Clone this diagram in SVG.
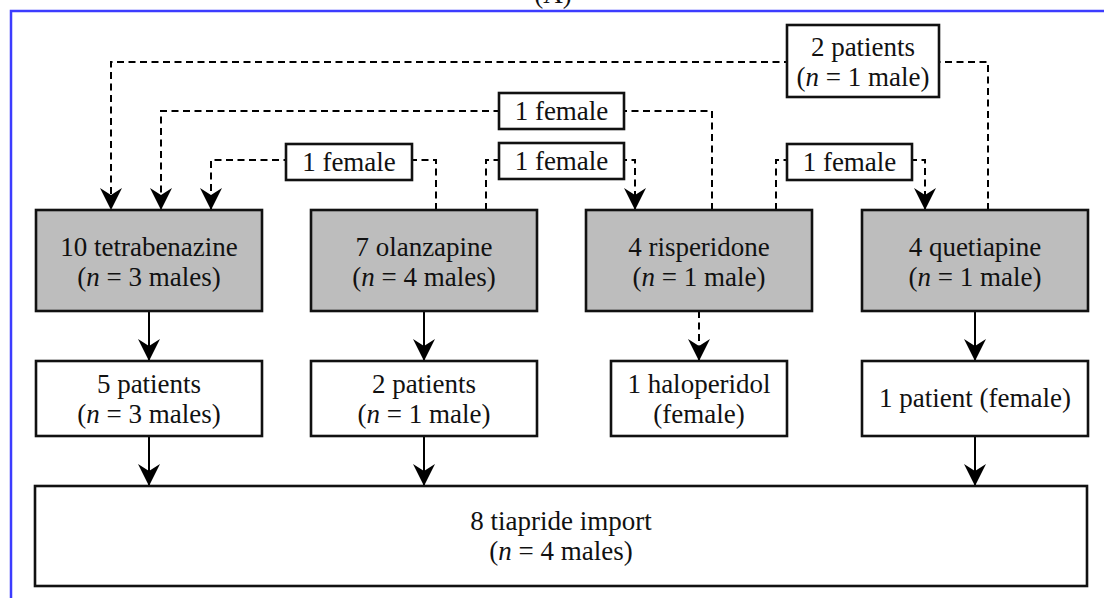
<svg xmlns="http://www.w3.org/2000/svg" width="1104" height="598" viewBox="0 0 1104 598">
<style>
.box{stroke:#111;stroke-width:2.6}
.g{fill:#bdbdbd}
.w{fill:#fff}
.t{font-family:"Liberation Serif","Times New Roman",serif;font-size:27px;fill:#111;text-anchor:middle}
.s{fill:none;stroke:#000;stroke-width:2}
.d{fill:none;stroke:#000;stroke-width:2;stroke-dasharray:7 4.5}
.frame{fill:none;stroke:#3c3cff;stroke-width:2.5}
</style>
<defs>
<marker id="ah" markerUnits="userSpaceOnUse" markerWidth="22" markerHeight="22" refX="22" refY="11" orient="auto" viewBox="0 0 22 22">
<path d="M22,11 L0,0 L7,11 L0,22 Z" fill="#000"/>
</marker>
</defs>
<rect width="1104" height="598" fill="#fff"/>
<text class="t" x="553" y="3">(A)</text>
<path class="frame" d="M11,598 V11 H1104"/>

<g id="connectors">
<path class="d" d="M988,210 V62 H111 V210" marker-end="url(#ah)"/>
<path class="d" d="M712,210 V111 H161 V210" marker-end="url(#ah)"/>
<path class="d" d="M436,210 V160 H211 V210" marker-end="url(#ah)"/>
<path class="d" d="M486,210 V160 H635 V210" marker-end="url(#ah)"/>
<path class="d" d="M776,210 V160 H925 V210" marker-end="url(#ah)"/>
<path class="s" d="M149,311 V361" marker-end="url(#ah)"/>
<path class="s" d="M424,311 V361" marker-end="url(#ah)"/>
<path class="d" d="M699,311 V361" marker-end="url(#ah)"/>
<path class="s" d="M975,311 V361" marker-end="url(#ah)"/>
<path class="s" d="M149,436 V486" marker-end="url(#ah)"/>
<path class="s" d="M424,436 V486" marker-end="url(#ah)"/>
<path class="s" d="M975,436 V486" marker-end="url(#ah)"/>
</g>

<g id="label-2patients">
<rect class="box w" x="787" y="25" width="152" height="72"/>
<text class="t" x="863" y="56">2 patients</text>
<text class="t" x="863" y="86">(<tspan font-style="italic">n</tspan> = 1 male)</text>
</g>
<g id="label-female-top">
<rect class="box w" x="499" y="93" width="125" height="36"/>
<text class="t" x="561.5" y="120">1 female</text>
</g>
<g id="label-female-left">
<rect class="box w" x="286" y="144" width="126" height="36"/>
<text class="t" x="349" y="171">1 female</text>
</g>
<g id="label-female-mid">
<rect class="box w" x="499" y="143" width="125" height="36"/>
<text class="t" x="561.5" y="170">1 female</text>
</g>
<g id="label-female-right">
<rect class="box w" x="787" y="144" width="125" height="36"/>
<text class="t" x="849.5" y="171">1 female</text>
</g>

<g id="tetrabenazine">
<rect class="box g" x="36" y="210" width="226" height="101"/>
<text class="t" x="149" y="256">10 tetrabenazine</text>
<text class="t" x="149" y="286">(<tspan font-style="italic">n</tspan> = 3 males)</text>
</g>
<g id="olanzapine">
<rect class="box g" x="311" y="210" width="226" height="101"/>
<text class="t" x="424" y="256">7 olanzapine</text>
<text class="t" x="424" y="286">(<tspan font-style="italic">n</tspan> = 4 males)</text>
</g>
<g id="risperidone">
<rect class="box g" x="586" y="210" width="226" height="101"/>
<text class="t" x="699" y="256">4 risperidone</text>
<text class="t" x="699" y="286">(<tspan font-style="italic">n</tspan> = 1 male)</text>
</g>
<g id="quetiapine">
<rect class="box g" x="862" y="210" width="226" height="101"/>
<text class="t" x="975" y="256">4 quetiapine</text>
<text class="t" x="975" y="286">(<tspan font-style="italic">n</tspan> = 1 male)</text>
</g>

<g id="patients5">
<rect class="box w" x="36" y="361" width="226" height="75"/>
<text class="t" x="149" y="393">5 patients</text>
<text class="t" x="149" y="423">(<tspan font-style="italic">n</tspan> = 3 males)</text>
</g>
<g id="patients2">
<rect class="box w" x="311" y="361" width="226" height="75"/>
<text class="t" x="424" y="393">2 patients</text>
<text class="t" x="424" y="423">(<tspan font-style="italic">n</tspan> = 1 male)</text>
</g>
<g id="haloperidol">
<rect class="box w" x="611" y="361" width="176" height="75"/>
<text class="t" x="699" y="393">1 haloperidol</text>
<text class="t" x="699" y="423">(female)</text>
</g>
<g id="patient1">
<rect class="box w" x="862" y="361" width="226" height="75"/>
<text class="t" x="975" y="407">1 patient (female)</text>
</g>

<g id="tiapride">
<rect class="box w" x="35" y="486" width="1052" height="100"/>
<text class="t" x="561" y="530">8 tiapride import</text>
<text class="t" x="561" y="560">(<tspan font-style="italic">n</tspan> = 4 males)</text>
</g>
</svg>
